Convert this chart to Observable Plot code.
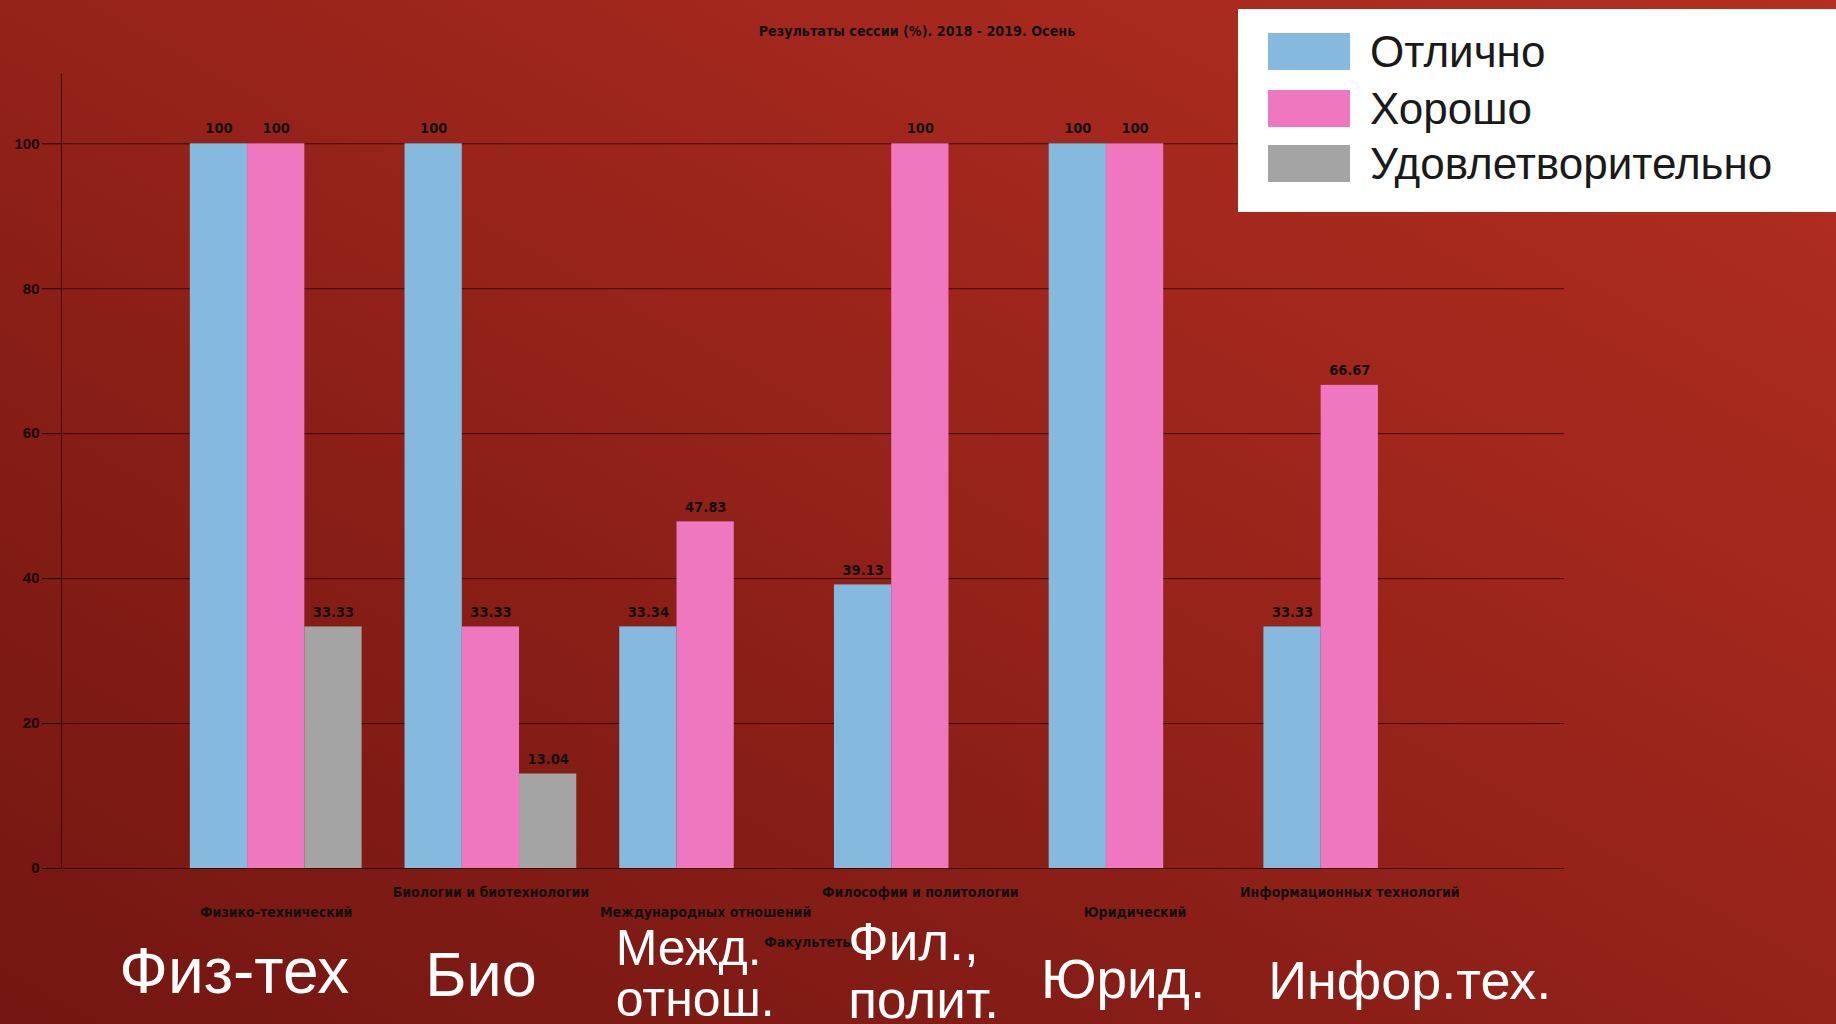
<!DOCTYPE html>
<html>
<head>
<meta charset="utf-8">
<script src="https://cdn.jsdelivr.net/npm/d3@7"></script>
<script src="https://cdn.jsdelivr.net/npm/@observablehq/plot@0.6"></script>
<style>
  html, body { margin: 0; padding: 0; }
  body {
    width: 1836px; height: 1024px; overflow: hidden;
    background: linear-gradient(to bottom left, #b42e21 0%, #9c251b 40%, #851d16 70%, #741611 100%);
    font-family: "Liberation Sans", Arial, sans-serif;
  }
  #wrap { position: relative; width: 1836px; height: 1024px; }
  #chart { position: absolute; left: 0; top: 0; }
  #subtitle {
    position: absolute; left: 0; width: 1836px; top: 23px;
    font-family: "Liberation Sans Narrow", "DejaVu Sans Condensed", sans-serif;
    font-weight: bold; font-size: 14.2px; color: #111;
  }
  #subtitle span { position: absolute; left: 917px; transform: translateX(-50%); white-space: nowrap; }
  #legend {
    position: absolute; left: 1238px; top: 9px; width: 598px; height: 203px; background: #fff;
  }
  .row { position: absolute; left: 30px; height: 37px; display: flex; align-items: center; }
  .sw { width: 82px; height: 37px; margin-right: 20px; }
  .lab { font-size: 44px; color: #1a1a1a; font-family: "Liberation Sans", Arial, sans-serif; line-height: 37px; }
</style>
</head>
<body>
<div id="wrap">
  <div id="chart"></div>
  <div id="subtitle"><span></span></div>
  <div id="legend"></div>
</div>
<script>
const subtitle = "Результаты сессии (%). 2018 - 2019. Осень";
const axisTitle = "Факультеты";
const categories = ["Физико-технический", "Биологии и биотехнологии", "Международных отношений", "Философии и политологии", "Юридический", "Информационных технологий"];
const series = ["Отлично", "Хорошо", "Удовлетворительно"];
const excellent = [100, 100, 33.34, 39.13, 100, 33.33];
const good = [100, 33.33, 47.83, 100, 100, 66.67];
const satisfactory = [33.33, 13.04, null, null, null, null];
const yTicks = [0, 20, 40, 60, 80, 100];
const shortLabels = ["Физ-тех", "Био", "Межд.\nотнош.", "Фил.,\nполит.", "Юрид.", "Инфор.тех."];

const colors = ["#85b9de", "#ee77c0", "#a4a4a4"];
const seriesValues = [excellent, good, satisfactory];

const rows = [];
categories.forEach((c, ci) => {
  series.forEach((s, si) => {
    const v = seriesValues[si][ci];
    if (v != null) rows.push({cat: c, series: s, si, value: v});
  });
});

const W = 1836, H = 1024;
const mL = 61, mR = 272, mT = 73, mB = 156;
const pInner = 0.2, pOuter = 0.6;
const step = (W - mL - mR) / (categories.length - pInner + 2 * pOuter);
const barW = step * (1 - pInner) / series.length;

const narrow = "'Liberation Sans Narrow', 'DejaVu Sans Condensed', sans-serif";
const dark = "#2e0805";
const smallSize = 14;

// layout of the large white slide labels (offsets relative to group centre)
const bigLayout = [
  {dx: -42, dy: 104.5, anchor: "middle", lh: 1, size: 64},
  {dx: -10, dy: 107, anchor: "middle", lh: 1, size: 63},
  {dx: -90, dy: 105.5, anchor: "start", lh: 1.03, size: 50},
  {dx: -72, dy: 102, anchor: "start", lh: 1.1, size: 53},
  {dx: -12, dy: 112, anchor: "middle", lh: 1, size: 55},
  {dx: 60, dy: 113, anchor: "middle", lh: 1, size: 54}
];

const marks = [
  Plot.gridY(yTicks, {stroke: dark, strokeOpacity: 0.85}),
  Plot.axisY(yTicks, {tickSize: 19, tickPadding: 3, fontSize: 15, fontWeight: "bold", color: "#150302", fontFamily: "'Liberation Sans', Arial, sans-serif", label: null}),
  Plot.frame({anchor: "left", stroke: dark, strokeOpacity: 0.85})
];

series.forEach((s, i) => {
  const data = rows.filter(d => d.si === i);
  marks.push(Plot.barY(data, {x: "cat", y: "value", fill: colors[i], insetLeft: i * barW, insetRight: (series.length - 1 - i) * barW}));
  marks.push(Plot.text(data, {x: "cat", y: "value", text: d => String(d.value), dx: (i - 1) * barW, dy: -15, fontSize: 14.5, fontWeight: "bold", fill: "#111", fontFamily: narrow}));
});

marks.push(Plot.text(categories.filter((d, i) => i % 2 === 1), {x: d => d, frameAnchor: "bottom", dy: 28, fontSize: smallSize, fontWeight: "bold", fill: "#111", fontFamily: narrow}));
marks.push(Plot.text(categories.filter((d, i) => i % 2 === 0), {x: d => d, frameAnchor: "bottom", dy: 48, fontSize: smallSize, fontWeight: "bold", fill: "#111", fontFamily: narrow}));
marks.push(Plot.text([axisTitle], {frameAnchor: "bottom", dy: 78, dx: -4, fontSize: smallSize, fontWeight: "bold", fill: "#111", fontFamily: narrow}));

shortLabels.forEach((t, i) => {
  const L = bigLayout[i];
  marks.push(Plot.text([t], {x: [categories[i]], text: [t], frameAnchor: "bottom", dx: L.dx, dy: L.dy, textAnchor: L.anchor, lineAnchor: "middle", lineHeight: L.lh, fontSize: L.size, fill: "#fff", fontFamily: "'Liberation Sans', Arial, sans-serif"}));
});

const chart = Plot.plot({
  width: W, height: H,
  marginLeft: mL, marginRight: mR, marginTop: mT, marginBottom: mB,
  style: {background: "transparent", color: "#111", fontFamily: narrow, overflow: "visible"},
  x: {type: "band", domain: categories, paddingInner: pInner, paddingOuter: pOuter, round: false, axis: null},
  y: {domain: [0, 109.7], axis: null},
  marks
});
document.getElementById("chart").appendChild(chart);

document.querySelector("#subtitle span").textContent = subtitle;

const legend = document.getElementById("legend");
const rowTops = [24, 81, 136];
series.forEach((s, i) => {
  const r = document.createElement("div");
  r.className = "row";
  r.style.top = rowTops[i] + "px";
  const sw = document.createElement("div");
  sw.className = "sw";
  sw.style.background = colors[i];
  const lab = document.createElement("div");
  lab.className = "lab";
  lab.textContent = s;
  r.appendChild(sw); r.appendChild(lab);
  legend.appendChild(r);
});
</script>
</body>
</html>
